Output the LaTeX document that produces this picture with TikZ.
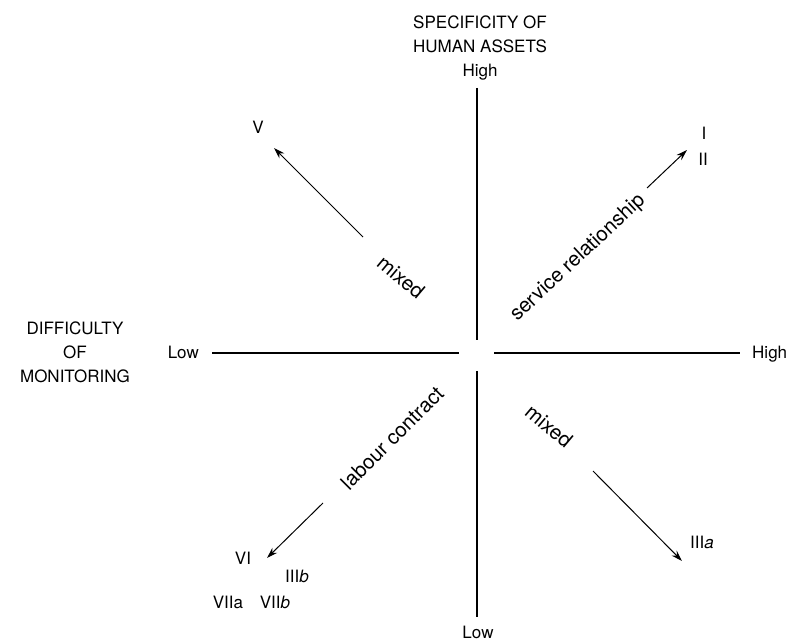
\documentclass[tikz,border=0pt]{standalone}
\usepackage{fontspec}
\setmainfont{TeX Gyre Heros}
\usetikzlibrary{arrows.meta,positioning}
\tikzset{lbl/.style={font=\fontsize{17}{24}\selectfont, inner sep=0pt},
         rlbl/.style={font=\fontsize{20.5}{24}\selectfont, inner sep=0pt},
         axis/.style={line width=1.3pt},
         tend/.style={line width=1pt,-{Stealth[length=11pt,width=7pt]}}}

\begin{document}
\begin{tikzpicture}[x=1pt,y=-1pt]
\useasboundingbox (0,0) rectangle (796,644);

% the two axes
\coordinate (vtop) at (477,88);
\coordinate (vmidt) at (477,340);
\coordinate (vmidb) at (477,371);
\coordinate (vbot) at (477,617);
\coordinate (hleft) at (212,353);
\coordinate (hmidl) at (459,353);
\coordinate (hmidr) at (494,353);
\coordinate (hright) at (740,353);

\draw[axis] (vtop) -- (vmidt);
\draw[axis] (vmidb) -- (vbot);
\draw[axis] (hleft) -- (hmidl);
\draw[axis] (hmidr) -- (hright);

\node[lbl,align=center,anchor=south] (spec) at (480,80) {SPECIFICITY OF\\HUMAN ASSETS\\High};
\node[lbl,anchor=north] (vlow) at (478,626) {Low};
\node[lbl,align=center] (diff) at (75,352) {DIFFICULTY\\OF\\MONITORING};
\node[lbl,anchor=east] (hlow) at (199,352) {Low};
\node[lbl,anchor=west] (hhigh) at (752,354) {High};

% classes
\node[lbl] (cV) at (258,127) {V};
\node[lbl] (cI) at (704,133) {I};
\node[lbl] (cII) at (703,159) {II};
\node[lbl] (cVI) at (243,558) {VI};
\node[lbl] (cIIIb) at (297,576) {III\textit{b}};
\node[lbl] (cVIIa) at (228,602) {VIIa};
\node[lbl] (cVIIb) at (275,602) {VII\textit{b}};
\node[lbl] (cIIIa) at (702,542) {III\textit{a}};

% arrows
\coordinate (sV) at (363,237);
\coordinate (tV) at (274,148);
\coordinate (sI) at (647,188);
\coordinate (tI) at (687,150);
\coordinate (sVI) at (323,503);
\coordinate (tVI) at (267,558);
\coordinate (sIIIa) at (593,471);
\coordinate (tIIIa) at (682,561);

\draw[tend] (sV) -- (tV);
\draw[tend] (sI) -- (tI);
\draw[tend] (sVI) -- (tVI);
\draw[tend] (sIIIa) -- (tIIIa);

\node[rlbl,rotate=-40] (mixup) at (401,277) {mixed};
\node[rlbl,rotate=43] (serv) at (578,258) {service relationship};
\node[rlbl,rotate=45] (labour) at (392,438) {labour contract};
\node[rlbl,rotate=-40] (mixdown) at (549,426) {mixed};

\end{tikzpicture}
\end{document}
